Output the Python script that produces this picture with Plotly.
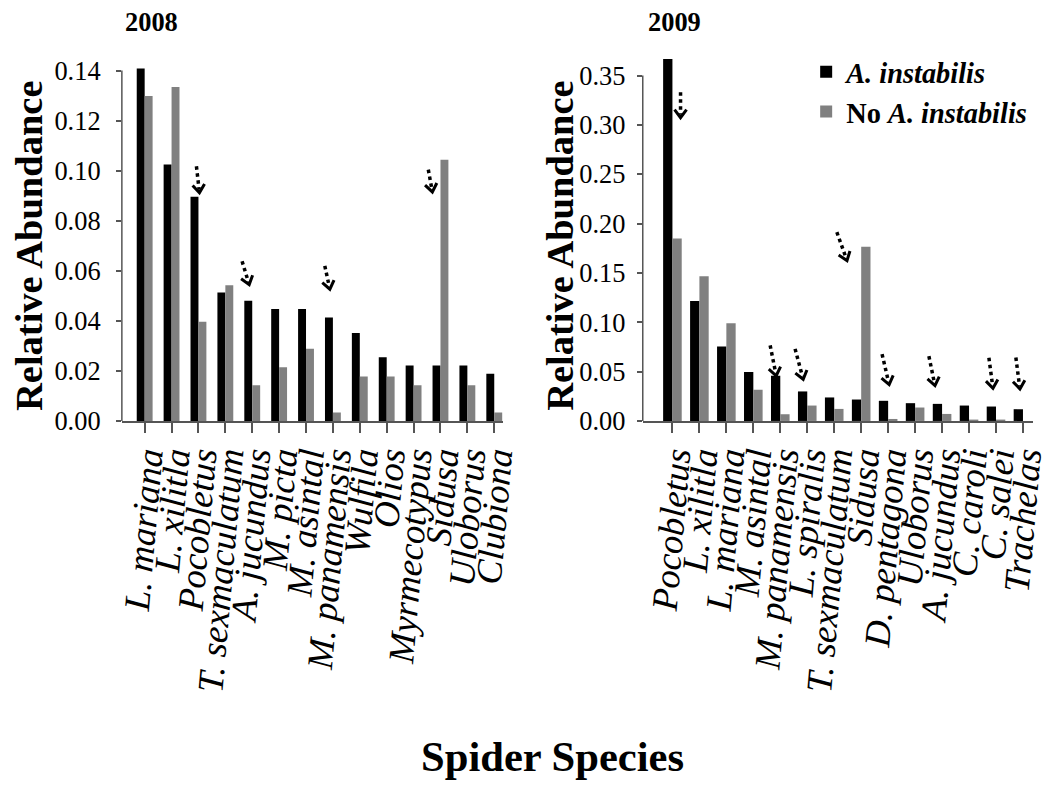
import math
import plotly.graph_objects as go

# ---- data -------------------------------------------------------------
species_2008 = ["L. mariana", "L. xilitla", "Pocobletus", "T. sexmaculatum",
                "A. jucundus", "M. picta", "M. asintal", "M. panamensis",
                "Wulfila", "Olios", "Myrmecotypus", "Sidusa", "Uloborus",
                "Clubiona"]
with_ant_2008 = [0.1408, 0.1025, 0.0896, 0.0513, 0.0480, 0.0447, 0.0447,
                 0.0413, 0.0351, 0.0255, 0.0222, 0.0222, 0.0222, 0.0189]
no_ant_2008 = [0.1299, 0.1334, 0.0396, 0.0542, 0.0143, 0.0215, 0.0288,
               0.0034, 0.0178, 0.0178, 0.0143, 0.1044, 0.0143, 0.0034]

species_2009 = ["Pocobletus", "L. xilitla", "L. mariana", "M. asintal",
                "M. panamensis", "L. spiralis", "T. sexmaculatum", "Sidusa",
                "D. pentagona", "Uloborus", "A. jucundus", "C. caroli",
                "C. salei", "Trachelas"]
with_ant_2009 = [0.3669, 0.1215, 0.0754, 0.0496, 0.0458, 0.0299, 0.0238,
                 0.0217, 0.0204, 0.0180, 0.0173, 0.0156, 0.0146, 0.0119]
no_ant_2009 = [0.1850, 0.1466, 0.0991, 0.0316, 0.0068, 0.0156, 0.0122,
               0.1765, 0.0020, 0.0136, 0.0071, 0.0010, 0.0010, 0.0000]

ticks_2008 = [0.00, 0.02, 0.04, 0.06, 0.08, 0.10, 0.12, 0.14]
ticks_2009 = [0.00, 0.05, 0.10, 0.15, 0.20, 0.25, 0.30, 0.35]

# dotted arrows: species, then (tip, tail) offsets in pixels from the top
# of that species' black bar (x right, y up)
arrows_2008 = [
    ("Pocobletus", (1, 4), (-2, 30)),
    ("A. jucundus", (-3, 16), (-10, 39)),
    ("M. panamensis", (-3, 28), (-8, 51)),
    ("Sidusa", (-8, 171), (-12, 193)),
]
arrows_2009 = [
    ("Pocobletus", (8, -58), (8, -33)),
    ("M. panamensis", (-4, 0), (-10, 30)),
    ("L. spiralis", (-4, 12), (-12, 42)),
    ("Sidusa", (-14, 137), (-24, 165)),
    ("D. pentagona", (1, 16), (-6, 46)),
    ("A. jucundus", (-7, 18), (-13, 47)),
    ("C. salei", (-3, 18), (-7, 48)),
    ("Trachelas", (-3, 20), (-7, 51)),
]

BLACK = "#000000"
GREY = "#808080"
AXIS = "#555555"
SERIF = "Liberation Serif"

# figure size, and the factor by which the page is shown on screen
W, H = 1066, 804
SX, SY = 0.988, 0.986
K = 1 / SY  # size factor for fonts and pixel offsets


def px_x(p):
    return min(p / SX / W, 1.0)


def px_y(p):
    return 1 - p / SY / H


def fs(size):
    return round(size * K, 1)


fig = go.Figure()

# ---- bars -------------------------------------------------------------
panels = [
    ("x", "y", species_2008, with_ant_2008, no_ant_2008, 0.295, True),
    ("x2", "y2", species_2009, with_ant_2009, no_ant_2009, 0.345, False),
]
for xa, ya, cats, with_vals, no_vals, bw, legend in panels:
    fig.add_trace(go.Bar(
        x=cats, y=with_vals, xaxis=xa, yaxis=ya, width=bw, offset=-bw,
        marker=dict(color=BLACK, line=dict(width=0)),
        name="<b><i>A. instabilis</i></b>", legendgroup="with",
        showlegend=not legend))
    fig.add_trace(go.Bar(
        x=cats, y=no_vals, xaxis=xa, yaxis=ya, width=bw, offset=0,
        marker=dict(color=GREY, line=dict(width=0)),
        name="<b>No <i>A. instabilis</i></b>", legendgroup="without",
        showlegend=not legend))

# ---- axes -------------------------------------------------------------
y_dom = [px_y(422), px_y(57)]
xaxis_common = dict(
    type="category", showgrid=False, zeroline=False, showline=True,
    linecolor=AXIS, linewidth=1.5, ticks="outside", ticklen=10,
    tickwidth=1.5, tickcolor=AXIS, tickangle=-85,
    tickmode="linear", tick0=0, dtick=1, ticklabelstandoff=-10,
    tickfont=dict(family=SERIF, size=fs(36), color="black", style="italic"),
)
yaxis_common = dict(
    showgrid=False, zeroline=False, showline=False, ticks="outside",
    ticklen=5, tickwidth=1.5, tickcolor=AXIS, tickformat=".2f",
    tickfont=dict(family=SERIF, size=fs(26), color="black"),
)
fig.update_layout(
    xaxis=dict(domain=[px_x(117), px_x(502)], range=[-0.848, 13.33],
               categoryorder="array", categoryarray=species_2008,
               anchor="y", **xaxis_common),
    yaxis=dict(domain=y_dom, range=[0, 0.1448], tickmode="array",
               tickvals=ticks_2008, anchor="x", ticklabelstandoff=10,
               **yaxis_common),
    xaxis2=dict(domain=[px_x(643), px_x(1037)], range=[-1.10, 13.37],
                categoryorder="array", categoryarray=species_2009,
                anchor="y2", **xaxis_common),
    yaxis2=dict(domain=y_dom, range=[0, 0.3672], tickmode="array",
                tickvals=ticks_2009, anchor="x2", ticklabelstandoff=6,
                **yaxis_common),
)

# vertical axis lines running from zero up to the last tick
for xd, ya, top in (("x domain", "y", ticks_2008[-1]),
                    ("x2 domain", "y2", ticks_2009[-1])):
    fig.add_shape(type="line", xref=xd, yref=ya, x0=0, x1=0, y0=0, y1=top,
                  line=dict(color=AXIS, width=1.5), layer="above")


# ---- dotted arrows ----------------------------------------------------
def add_arrow(xa, ya, cats, values, spec):
    name, tip, tail = spec
    idx = cats.index(name)
    val = values[idx]
    tx, ty = tip[0] * K, tip[1] * K
    sx, sy = tail[0] * K, tail[1] * K
    length = math.hypot(tx - sx, ty - sy)
    ux, uy = (tx - sx) / length, (ty - sy) / length
    nx, ny = -uy, ux
    common = dict(xref=xa, yref=ya, xsizemode="pixel", ysizemode="pixel",
                  xanchor=idx, yanchor=val, layer="above")
    fig.add_shape(type="line", x0=sx, y0=sy, x1=tx - 3 * ux, y1=ty - 3 * uy,
                  line=dict(color="black", width=3.5, dash="dot"), **common)
    w1 = (tx - 8 * ux + 6 * nx, ty - 8 * uy + 6 * ny)
    w2 = (tx - 8 * ux - 6 * nx, ty - 8 * uy - 6 * ny)
    path = f"M{w1[0]:.2f},{w1[1]:.2f} L{tx:.2f},{ty:.2f} L{w2[0]:.2f},{w2[1]:.2f}"
    fig.add_shape(type="path", path=path,
                  line=dict(color="black", width=3), **common)


for spec in arrows_2008:
    add_arrow("x", "y", species_2008, with_ant_2008, spec)
for spec in arrows_2009:
    add_arrow("x2", "y2", species_2009, with_ant_2009, spec)

# ---- titles -----------------------------------------------------------
def text(s, x, y, size, angle=0):
    fig.add_annotation(text=s, x=x, y=y, xref="paper", yref="paper",
                       showarrow=False, textangle=angle,
                       font=dict(family=SERIF, size=fs(size), color="black"),
                       xanchor="center", yanchor="middle")


text("<b>2008</b>", px_x(147), px_y(20), 26)
text("<b>2009</b>", px_x(675), px_y(20), 26)
text("<b>Relative Abundance</b>", px_x(23), px_y(246), 38, -90)
text("<b>Relative Abundance</b>", px_x(560), px_y(246), 38, -90)
text("<b>Spider Species</b>", px_x(552), px_y(760), 42)

fig.update_layout(
    width=W, height=H, autosize=False, margin=dict(l=0, r=0, t=0, b=0),
    paper_bgcolor="white", plot_bgcolor="white", barmode="overlay",
    showlegend=True,
    legend=dict(x=px_x(808), y=px_y(45), xanchor="left", yanchor="top",
                bgcolor="rgba(0,0,0,0)", borderwidth=0, traceorder="normal",
                font=dict(family=SERIF, size=fs(28), color="black")),
)

fig.write_html("out.html")
